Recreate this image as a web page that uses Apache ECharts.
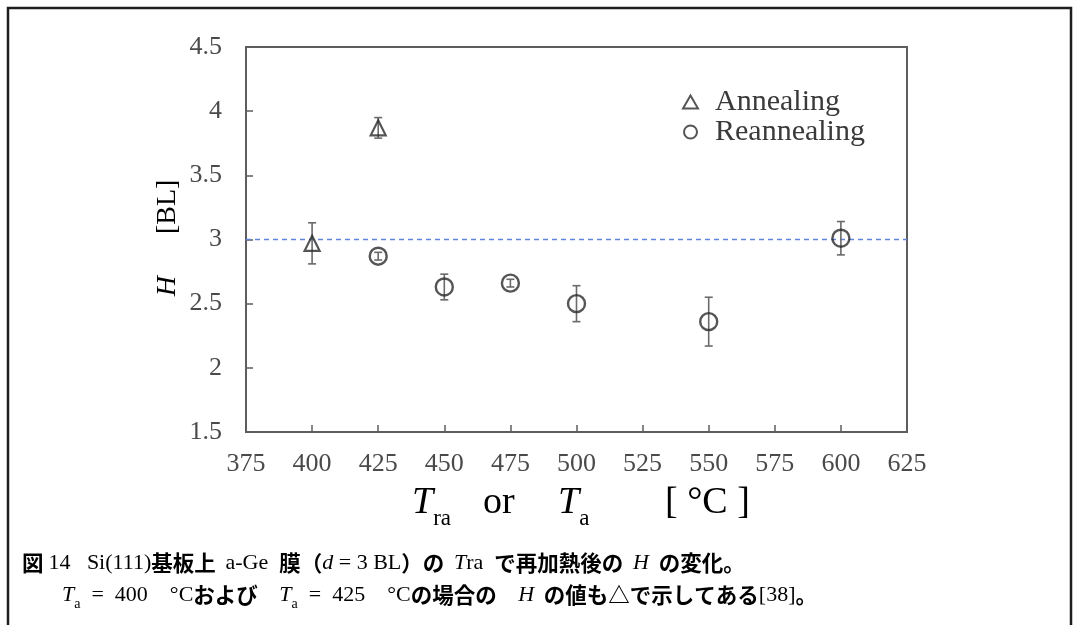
<!DOCTYPE html>
<html>
<head>
<meta charset="utf-8">
<script src="https://cdn.jsdelivr.net/npm/echarts@6/dist/echarts.min.js"></script>
<style>
  html, body { margin: 0; padding: 0; background: #fff; }
  #chart { width: 1078px; height: 625px; }
</style>
</head>
<body>
<div id="chart"></div>
<script>
// Annealing temperature (Ta) and the measured island height H [BL]
const annealT = [400, 425];
const annealH = [2.97, 3.87];
const annealErr = [0.16, 0.08];

// Re-annealing temperature (Tra) and H after re-heating
const reannealT = [425, 450, 475, 500, 550, 600];
const reannealH = [2.87, 2.63, 2.66, 2.50, 2.36, 3.01];
const reannealErr = [0.03, 0.10, 0.03, 0.14, 0.19, 0.13];

// Reference level of the deposited film thickness d = 3 BL
const refLevel = 3.0;

const xTicks = { min: 375, max: 625, step: 25 };
const yTicks = { min: 1.5, max: 4.5, step: 0.5 };

const serif = '"Liberation Serif", "Times New Roman", serif';
const jp = '"Noto Sans CJK JP", sans-serif';

function pairs(xs, ys) { return xs.map((x, i) => [x, ys[i]]); }
function errRows(xs, ys, es) { return xs.map((x, i) => [x, ys[i] - es[i], ys[i] + es[i]]); }

const errorBarSeries = (name, rows) => ({
  type: 'custom',
  name: name + ' err',
  data: rows,
  z: 4,
  silent: true,
  renderItem: function (params, api) {
    const x = api.value(0);
    const lo = api.coord([x, api.value(1)]);
    const hi = api.coord([x, api.value(2)]);
    const cap = 4;
    const st = { stroke: '#6a6a6a', lineWidth: 1.6 };
    return {
      type: 'group',
      children: [
        { type: 'line', shape: { x1: lo[0], y1: lo[1], x2: hi[0], y2: hi[1] }, style: st },
        { type: 'line', shape: { x1: lo[0] - cap, y1: lo[1], x2: lo[0] + cap, y2: lo[1] }, style: st },
        { type: 'line', shape: { x1: hi[0] - cap, y1: hi[1], x2: hi[0] + cap, y2: hi[1] }, style: st }
      ]
    };
  }
});

const chart = echarts.init(document.getElementById('chart'));

const titleColor = '#404040';
const big = { fontFamily: serif, fontSize: 38, color: titleColor };
const bigItalic = { fontFamily: serif, fontStyle: 'italic', fontSize: 38, color: titleColor };
const bigSub = { fontFamily: serif, fontSize: 23, color: titleColor, verticalAlign: 'bottom', padding: [0, 0, -8, 0] };

function axisTitlePart(x, text) {
  return {
    type: 'text',
    x: x, y: 503,
    style: {
      text: text,
      align: 'left', verticalAlign: 'middle',
      rich: { i: bigItalic, n: big, s: bigSub }
    }
  };
}

const capJ = { fontFamily: jp, fontWeight: 'bold', fontSize: 21.5, color: '#111' };
const capS = { fontFamily: serif, fontSize: 22, color: '#111' };
const capI = { fontFamily: serif, fontStyle: 'italic', fontSize: 22, color: '#111' };
const capSub = { fontFamily: serif, fontSize: 14, color: '#111', verticalAlign: 'bottom', padding: [0, 0, -5, 0] };

chart.setOption({
  backgroundColor: '#fff',
  animation: false,
  grid: {
    left: 246, top: 47, right: 171, bottom: 193,
    show: true, borderColor: '#5e5e5e', borderWidth: 2, backgroundColor: 'transparent'
  },
  legend: {
    orient: 'vertical',
    left: 677, top: 82,
    itemGap: 0,
    itemWidth: 15, itemHeight: 13,
    data: ['Annealing', 'Reannealing'],
    textStyle: { fontFamily: serif, fontSize: 30, lineHeight: 30, color: '#3a3a3a', padding: [0, 0, 0, 12] }
  },
  xAxis: {
    type: 'value',
    min: xTicks.min, max: xTicks.max, interval: xTicks.step,
    axisLine: { lineStyle: { color: '#5e5e5e', width: 2 } },
    axisTick: { inside: true, length: 7, lineStyle: { color: '#5e5e5e', width: 1.5 } },
    splitLine: { show: false },
    axisLabel: { margin: 19, fontFamily: serif, fontSize: 26, color: '#4a4a4a' }
  },
  yAxis: {
    type: 'value',
    min: yTicks.min, max: yTicks.max, interval: yTicks.step,
    axisLine: { lineStyle: { color: '#5e5e5e', width: 2 } },
    axisTick: { inside: true, length: 7, lineStyle: { color: '#5e5e5e', width: 1.5 } },
    splitLine: { show: false },
    axisLabel: { margin: 24, fontFamily: serif, fontSize: 26, color: '#4a4a4a' }
  },
  series: [
    {
      type: 'line',
      name: 'ref',
      data: [[xTicks.min, refLevel], [xTicks.max, refLevel]],
      symbol: 'none',
      silent: true,
      z: 1,
      lineStyle: { color: '#5f84e0', width: 1.7, type: [5, 4] }
    },
    errorBarSeries('Annealing', errRows(annealT, annealH, annealErr)),
    errorBarSeries('Reannealing', errRows(reannealT, reannealH, reannealErr)),
    {
      type: 'scatter',
      name: 'Annealing',
      data: pairs(annealT, annealH),
      symbol: 'triangle',
      symbolSize: 15,
      z: 5,
      itemStyle: { color: 'rgba(255,255,255,0)', borderColor: '#2a2a2a', borderWidth: 2.2 }
    },
    {
      type: 'scatter',
      name: 'Reannealing',
      data: pairs(reannealT, reannealH),
      symbol: 'circle',
      symbolSize: 17,
      z: 5,
      itemStyle: { color: 'rgba(255,255,255,0)', borderColor: '#2a2a2a', borderWidth: 2.4 }
    }
  ],
  graphic: [
    // outer figure frame (open at the bottom)
    {
      type: 'polyline',
      shape: { points: [[8, 625], [8, 8], [1071, 8], [1071, 625]] },
      style: { stroke: '#1e1e1e', lineWidth: 2.5, fill: null }
    },
    // y-axis title
    {
      type: 'text',
      x: 168, y: 238,
      rotation: Math.PI / 2,
      style: {
        text: '{i|H}{n|      [BL]}',
        align: 'center', verticalAlign: 'middle',
        rich: {
          i: { fontFamily: serif, fontStyle: 'italic', fontSize: 28, color: titleColor },
          n: { fontFamily: serif, fontSize: 28, color: titleColor }
        }
      }
    },
    // x-axis title, laid out in separate pieces
    axisTitlePart(412, '{i|T}{s|ra}'),
    axisTitlePart(483, '{n|or}'),
    axisTitlePart(558, '{i|T}{s|a}'),
    axisTitlePart(665, '{n|[ °C ]}'),
    // caption
    {
      type: 'text',
      x: 22, y: 563,
      style: {
        text: '{j|図 }{s|14   Si(111)}{j|基板上  }{s|a-Ge  }{j|膜（}{i|d}{s| = 3 BL}{j|）の  }{i|T}{s|ra  }{j|で再加熱後の  }{i|H}{j|  の変化。}',
        verticalAlign: 'middle',
        rich: { j: capJ, s: capS, i: capI }
      }
    },
    {
      type: 'text',
      x: 62, y: 595,
      style: {
        text: '{i|T}{b|a}{s|  =  400　°C}{j|および　}{i|T}{b|a}{s|  =  425　°C}{j|の場合の　}{i|H}{j|  の値も△で示してある}{s|[38]}{j|。}',
        verticalAlign: 'middle',
        rich: { j: capJ, s: capS, i: capI, b: capSub }
      }
    }
  ]
});
</script>
</body>
</html>
